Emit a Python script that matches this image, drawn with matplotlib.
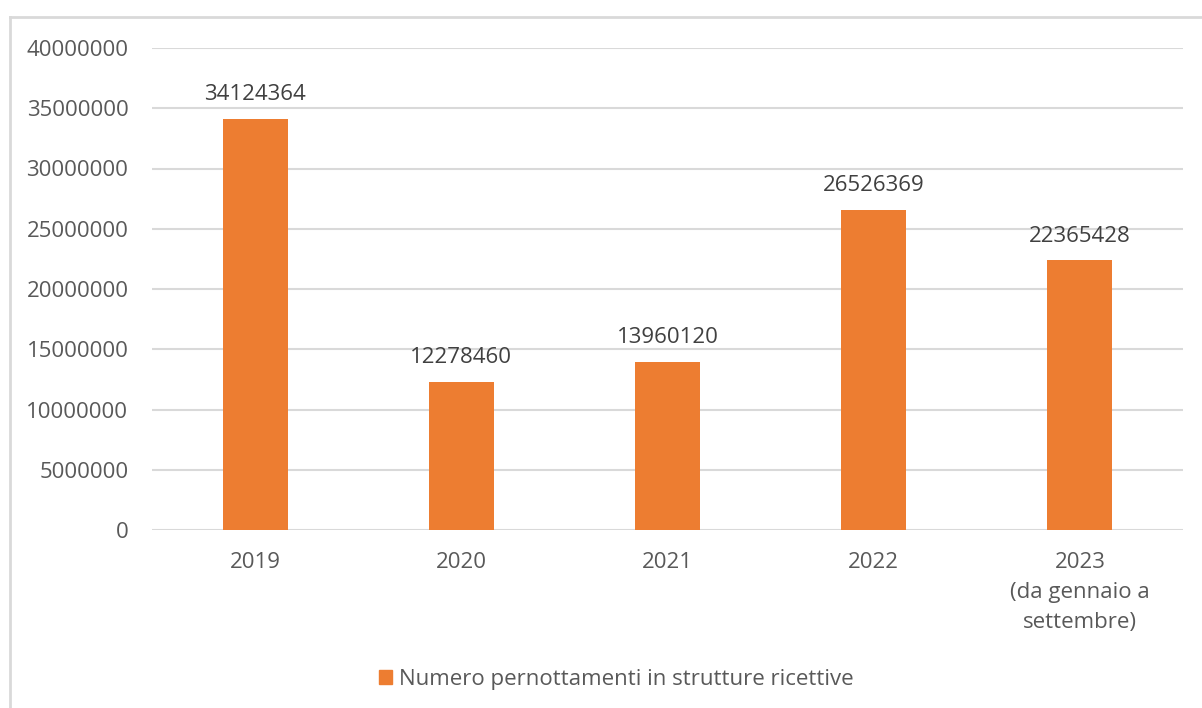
import matplotlib
matplotlib.use("Agg")
import matplotlib.pyplot as plt
from matplotlib.lines import Line2D
from matplotlib.patches import Patch

plt.rcParams['font.family'] = ['Open Sans', 'DejaVu Sans']

categories = ["2019", "2020", "2021", "2022", "2023\n(da gennaio a\nsettembre)"]
values = [34124364, 12278460, 13960120, 26526369, 22365428]
yticks = [0, 5000000, 10000000, 15000000, 20000000, 25000000, 30000000, 35000000, 40000000]
series_name = "Numero pernottamenti in strutture ricettive"

BAR = "#ED7D31"
TXT = "#595959"
GRID = "#D9D9D9"
FS = 16

fig = plt.figure(figsize=(12.02, 7.08), dpi=100)
ax = fig.add_axes([152 / 1202, 1 - 530 / 708, (1183 - 152) / 1202, (530 - 48) / 708])

x = range(len(categories))
bars = ax.bar(x, values, width=0.316, color=BAR, zorder=3)

ax.set_ylim(0, 40000000)
ax.set_xlim(-0.5, len(categories) - 0.5)
ax.set_yticks(yticks)
ax.set_yticklabels([str(t) for t in yticks])
ax.set_xticks(list(x))
ax.set_xticklabels(categories, linespacing=1.55, va="top")
ax.tick_params(axis="y", length=0, pad=17, labelsize=FS, labelcolor=TXT)
ax.tick_params(axis="x", length=0, pad=16, labelsize=FS, labelcolor=TXT)
ax.grid(axis="y", color=GRID, linewidth=1.5, zorder=0)
for s in ax.spines.values():
    s.set_visible(False)

for b, v in zip(bars, values):
    ax.annotate(str(v), (b.get_x() + b.get_width() / 2, v), xytext=(0, 10),
                textcoords="offset points", ha="center", va="bottom",
                fontsize=FS, color="#404040")

# chart frame (left and top edges)
fig.add_artist(Line2D([9.5 / 1202, 9.5 / 1202], [0, 1 - 17 / 708],
                      transform=fig.transFigure, color=GRID, linewidth=2))
fig.add_artist(Line2D([9.5 / 1202, 1], [1 - 17 / 708, 1 - 17 / 708],
                      transform=fig.transFigure, color=GRID, linewidth=2))

fig.legend(handles=[Patch(color=BAR, label=series_name)],
           loc="center", bbox_to_anchor=(616 / 1202, 1 - 679 / 708),
           frameon=False, fontsize=FS, labelcolor=TXT,
           handlelength=0.6, handleheight=0.6, handletextpad=0.3)

fig.savefig("out.png", dpi=100, facecolor="white")
